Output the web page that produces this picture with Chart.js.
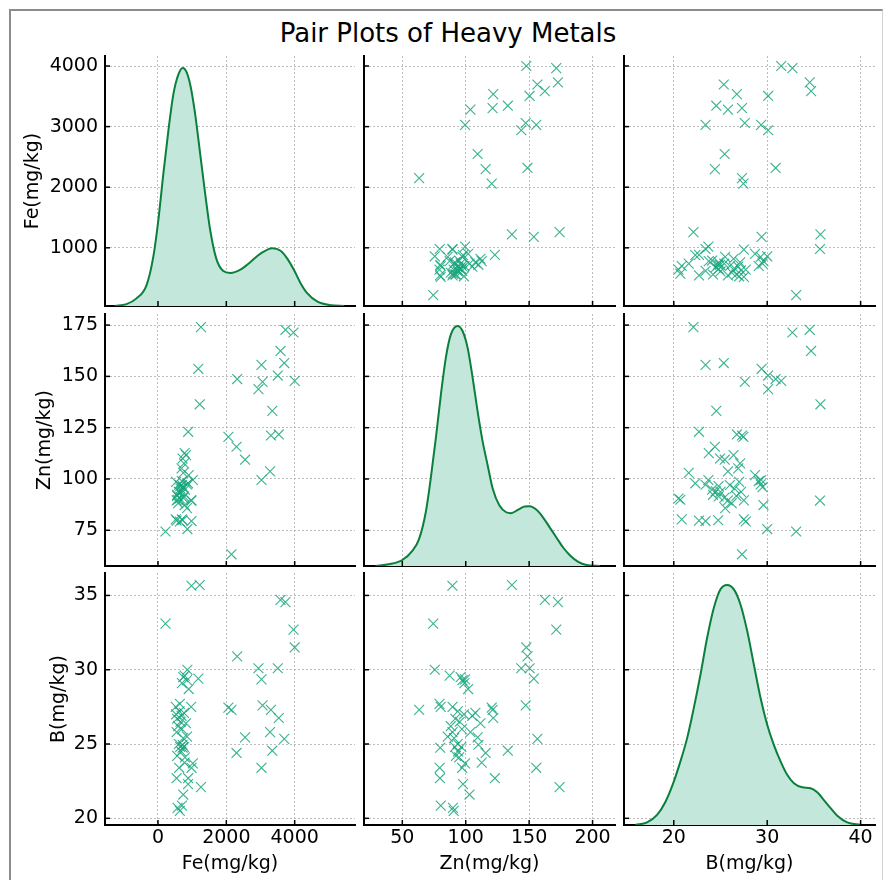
<!DOCTYPE html>
<html>
<head>
<meta charset="utf-8">
<script src="https://cdn.jsdelivr.net/npm/chart.js@4.4.1/dist/chart.umd.min.js"></script>
<style>
  body { margin: 0; background: #fff; width: 884px; height: 880px; position: relative; overflow: hidden; font-family: "DejaVu Sans", sans-serif; }
  #frame { position: absolute; left: 9px; top: 9px; width: 871px; height: 1000px; border-top: 2px solid #8c8c8c; border-left: 2px solid #8c8c8c; border-right: 1px solid #d4d4d4; }
  #title { position: absolute; left: 6px; width: 884px; top: 20px; text-align: center; font-size: 26px; line-height: 26px; color: #000; }
  canvas { position: absolute; }
</style>
</head>
<body>
<div id="frame"></div>
<div id="title">Pair Plots of Heavy Metals</div>
<script>
// samples (mg/kg)
var fe = [1258, 1180, 1222, 884, 2318, 2060, 2298, 2548, 2150, 3028, 2940, 3060, 3028, 3280, 3345, 3305, 3535, 3585, 3695, 3506, 3730, 3965, 4000, 220, 980,
          640, 575, 700, 740, 880, 545, 980, 620, 1020, 780, 790, 560, 680, 720, 650, 760, 720, 610, 740, 850,
          545, 700, 590, 820, 660, 560, 690, 530, 760, 630, 970, 520, 640, 900, 700, 850, 740, 780, 860];
var zn = [174.0, 153.7, 136.4, 123.0, 148.7, 120.5, 115.7, 109.4, 63.3, 155.6, 143.8, 147.3, 99.5, 103.7, 133.2, 121.2, 121.7, 162.4, 156.5, 150.4, 172.7, 171.4, 147.8, 74.4, 89.5,
          90.5, 89.9, 80.3, 103.0, 97.9, 79.7, 79.5, 97.2, 99.5, 112.6, 94.8, 92.3, 94.0, 79.9, 96.5, 91.5, 110.0, 93.7, 90.8, 85.8,
          89.6, 97.0, 88.2, 111.6, 95.3, 91.8, 105.2, 98.6, 107.6, 93.7, 89.6, 80.3, 79.3, 101.9, 99.0, 97.4, 96.0, 87.3, 75.6];
var b = [22.1, 29.4, 35.7, 22.7, 30.9, 27.45, 24.4, 25.45, 27.3, 23.4, 30.1, 27.6, 29.35, 25.8, 24.55, 27.3, 26.75, 34.7, 25.35, 30.1, 34.55, 32.7, 31.5, 33.1, 35.65,
         20.5, 20.7, 20.85, 21.6, 22.3, 22.7, 23.4, 23.4, 23.7, 23.75, 24.1, 24.2, 24.5, 24.75, 24.8, 24.8, 24.95, 25.0, 25.4, 25.5,
         25.8, 26.0, 26.2, 26.4, 26.5, 26.7, 26.9, 27.0, 27.1, 27.2, 27.5, 27.5, 27.7, 28.7, 29.1, 29.3, 29.5, 29.6, 30.0];

// density curves on the diagonal (peak scaled to 1)
var feKdeX = [-1265, -921, -627, -333, -137, 10, 157, 304, 451, 598, 725, 843, 961, 1088, 1235, 1382, 1529, 1706, 1902, 2118, 2412, 2706, 3000, 3343, 3588, 3784, 3980, 4176, 4372, 4667, 5059, 5451];
var feKdeY = [0, 0.008, 0.032, 0.088, 0.206, 0.36, 0.555, 0.736, 0.89, 0.973, 1.0, 0.98, 0.918, 0.806, 0.639, 0.471, 0.318, 0.199, 0.148, 0.139, 0.153, 0.185, 0.22, 0.243, 0.232, 0.199, 0.151, 0.095, 0.053, 0.018, 0.003, 0];
var znKdeX = [28.9, 39.4, 50, 57.9, 63.2, 68.5, 72.4, 76.4, 80.4, 84.3, 88.3, 93.6, 97.5, 101.5, 105.5, 109.4, 113.4, 117.3, 121.3, 126.6, 131.9, 135.8, 141.1, 146.4, 150.4, 155.6, 160.9, 166.2, 171.5, 176.8, 182.1, 188.7, 195.3, 205.8];
var znKdeY = [0, 0.007, 0.025, 0.063, 0.112, 0.224, 0.364, 0.531, 0.713, 0.867, 0.965, 1.0, 0.979, 0.909, 0.783, 0.643, 0.517, 0.42, 0.322, 0.252, 0.224, 0.22, 0.234, 0.248, 0.249, 0.235, 0.203, 0.161, 0.119, 0.077, 0.045, 0.017, 0.004, 0];
var bKdeX = [15.89, 17.14, 18.21, 19.11, 20, 20.71, 21.43, 22.14, 22.86, 23.57, 24.29, 25, 25.71, 26.43, 27.14, 27.86, 28.57, 29.29, 30, 30.71, 31.43, 32.14, 32.86, 33.75, 34.64, 35.36, 36.07, 36.79, 37.5, 38.57, 40];
var bKdeY = [0, 0.011, 0.042, 0.097, 0.181, 0.265, 0.362, 0.487, 0.627, 0.78, 0.905, 0.982, 1.0, 0.982, 0.919, 0.808, 0.669, 0.529, 0.418, 0.334, 0.265, 0.209, 0.174, 0.157, 0.153, 0.136, 0.104, 0.07, 0.039, 0.011, 0];

var labels = ['Fe(mg/kg)', 'Zn(mg/kg)', 'B(mg/kg)'];
var xTicks = [[0, 2000, 4000], [50, 100, 150, 200], [20, 30, 40]];
var yTicks = [[1000, 2000, 3000, 4000], [75, 100, 125, 150, 175], [20, 25, 30, 35]];

// axis limits as they appear in the figure
var xLim = [[-1550, 5765], [19.8, 217.7], [14.67, 41.54]];
var yLim = [[40, 4165], [57.6, 180.4], [19.55, 36.51]];

var vars = [fe, zn, b];
var kdeX = [feKdeX, znKdeX, bKdeX];
var kdeY = [feKdeY, znKdeY, bKdeY];

// panel boxes in page pixels
var COLS = [{ left: 105, right: 355 }, { left: 364, right: 615 }, { left: 624, right: 875 }];
var ROWS = [{ top: 56, bottom: 306 }, { top: 314, bottom: 566 }, { top: 573, bottom: 825 }];
var yTitlePad = [21.6, 34.1, 47.6];

var MARK = 'rgba(24,166,124,0.85)';
var LINE = '#0b7f3c';
var FILL = '#c4e7db';
var GRID = 'rgba(165,165,165,0.75)';
var FONT = 'DejaVu Sans';

var inTicks = {
  id: 'inTicks',
  afterDraw: function (chart) {
    var ctx = chart.ctx, a = chart.chartArea;
    var sx = chart.scales.x, sy = chart.scales.y;
    ctx.save();
    ctx.strokeStyle = '#000';
    ctx.lineWidth = 1.5;
    sx.ticks.forEach(function (t) {
      var p = sx.getPixelForValue(t.value);
      ctx.beginPath(); ctx.moveTo(p, a.bottom); ctx.lineTo(p, a.bottom - 5); ctx.stroke();
    });
    sy.ticks.forEach(function (t) {
      var p = sy.getPixelForValue(t.value);
      ctx.beginPath(); ctx.moveTo(a.left, p); ctx.lineTo(a.left + 5, p); ctx.stroke();
    });
    ctx.restore();
  }
};

function panel(r, c) {
  var L = c === 0 ? COLS[0].left : 20;
  var T = 20, R = 20;
  var B = r === 2 ? 880 - ROWS[2].bottom : 20;
  var cv = document.createElement('canvas');
  cv.width = COLS[c].right - COLS[c].left + L + R;
  cv.height = ROWS[r].bottom - ROWS[r].top + T + B;
  cv.style.left = (COLS[c].left - L) + 'px';
  cv.style.top = (ROWS[r].top - T) + 'px';
  document.body.appendChild(cv);

  var ds;
  if (r === c) {
    ds = [{
      data: kdeX[c].map(function (v, i) { return { x: v, y: kdeY[c][i] }; }),
      showLine: true, yAxisID: 'yd', fill: 'origin',
      backgroundColor: FILL, borderColor: LINE, borderWidth: 2,
      pointRadius: 0, cubicInterpolationMode: 'monotone'
    }];
  } else {
    ds = [{
      data: vars[c].map(function (v, i) { return { x: v, y: vars[r][i] }; }),
      pointStyle: 'crossRot', pointRadius: 7, borderWidth: 1.1,
      borderColor: MARK, backgroundColor: MARK
    }];
  }

  var scales = {
    x: {
      type: 'linear', min: xLim[c][0], max: xLim[c][1],
      afterFit: function (s) { s.height = B; },
      afterBuildTicks: function (s) { s.ticks = xTicks[c].map(function (v) { return { value: v }; }); },
      grid: { color: GRID, lineWidth: 1, drawTicks: false },
      border: { display: true, color: '#000', width: 2, dash: [2, 2] },
      ticks: { display: r === 2, color: '#000', padding: 2, maxRotation: 0, autoSkip: false,
               font: { family: FONT, size: 19 }, callback: function (v) { return String(v); } },
      title: { display: r === 2, text: labels[c], color: '#000', font: { family: FONT, size: 19 }, padding: { top: 0, bottom: 5 } }
    },
    y: {
      type: 'linear', min: yLim[r][0], max: yLim[r][1],
      afterFit: function (s) { s.width = L; },
      afterBuildTicks: function (s) { s.ticks = yTicks[r].map(function (v) { return { value: v }; }); },
      grid: { color: GRID, lineWidth: 1, drawTicks: false },
      border: { display: true, color: '#000', width: 2, dash: [2, 2] },
      ticks: { display: c === 0, color: '#000', padding: 7, autoSkip: false,
               font: { family: FONT, size: 19 }, callback: function (v) { return String(v); } },
      title: { display: c === 0, text: labels[r], color: '#000', font: { family: FONT, size: 19 }, padding: { top: yTitlePad[r], bottom: 0 } }
    }
  };
  if (r === c) {
    scales.yd = { display: false, min: 0, max: 1.05 };
  }

  new Chart(cv.getContext('2d'), {
    type: 'scatter',
    data: { datasets: ds },
    options: {
      responsive: false, animation: false, devicePixelRatio: 1,
      layout: { padding: { left: 0, top: T, right: R, bottom: 0 } },
      plugins: { legend: { display: false }, tooltip: { enabled: false } },
      scales: scales
    },
    plugins: [inTicks]
  });
}

for (var r = 0; r < 3; r++) {
  for (var c = 0; c < 3; c++) {
    panel(r, c);
  }
}
</script>
</body>
</html>
